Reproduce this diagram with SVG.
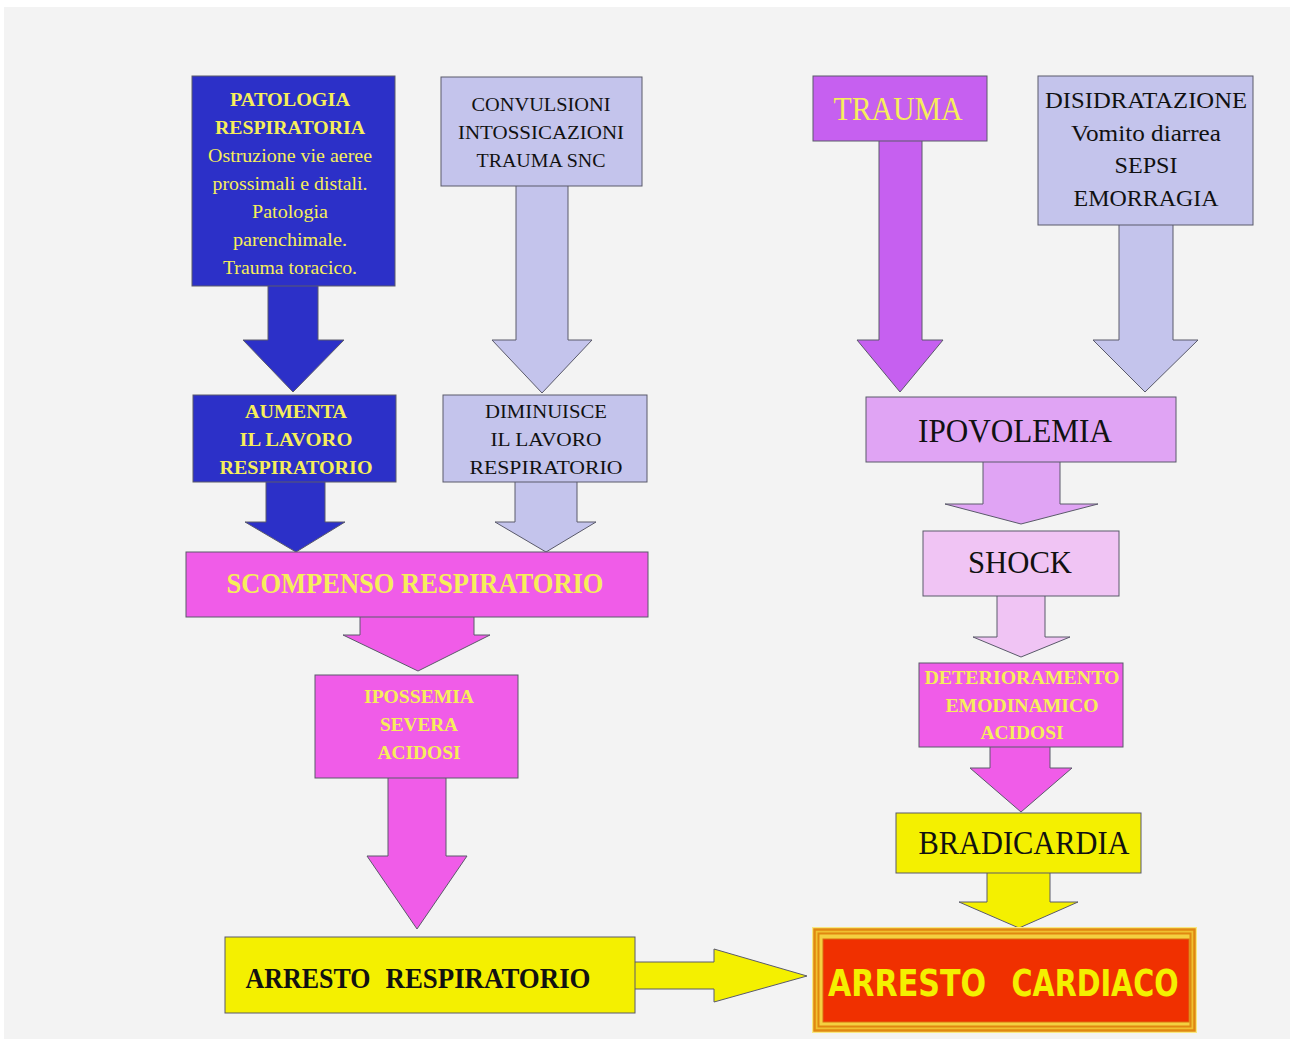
<svg xmlns="http://www.w3.org/2000/svg" width="1290" height="1039" viewBox="0 0 1290 1039">
<style>
.box{stroke:#5a5a6a;stroke-width:1}
.arr{stroke:#5a5a6a;stroke-width:1;stroke-linejoin:miter}
.blue{fill:#2c30c8}
.lav{fill:#c4c4ec}
.pur{fill:#c660f0}
.ipo{fill:#e0a4f4}
.sho{fill:#f0c4f4}
.mag{fill:#f05ce8}
.yel{fill:#f4f000}
text{font-family:"Liberation Serif","Times New Roman",serif;text-anchor:middle}
.ty{fill:#f6ee5a;font-weight:bold}
.tyr{fill:#f6ee5a}
.tk{fill:#111}
</style>
<rect x="0" y="0" width="1290" height="1039" fill="#ffffff"/>
<rect x="4" y="7" width="1286" height="1032" fill="#f3f3f3"/>

<g id="connectors">
<path class="arr blue" d="M268,285 V340 H243 L293,392 L344,340 H318 V285"/>
<path class="arr blue" d="M266,481 V522 H245 L296,552 L345,522 H325 V481"/>
<path class="arr lav" d="M516,185 V340 H492 L542,393 L592,340 H568 V185"/>
<path class="arr lav" d="M515,481 V522 H495 L546,552 L596,522 H577 V481"/>
<path class="arr mag" d="M360,616 V635 H343 L418,671 L490,635 H474 V616"/>
<path class="arr mag" d="M388,777 V856 H367 L417,929 L467,856 H446 V777"/>
<path class="arr yel" d="M634,962 H714 V949 L807,976 L714,1002 V989 H634"/>
<path class="arr pur" d="M879,140 V340 H857 L900,392 L943,340 H922 V140"/>
<path class="arr lav" d="M1119,224 V340 H1093 L1145,392 L1198,340 H1173 V224"/>
<path class="arr ipo" d="M983,461 V504 H945 L1021,524 L1098,504 H1060 V461"/>
<path class="arr sho" d="M997,595 V637 H973 L1021,657 L1070,637 H1045 V595"/>
<path class="arr mag" d="M990,746 V768 H970 L1021,812 L1072,768 H1050 V746"/>
<path class="arr yel" d="M987,872 V902 H959 L1019,928 L1078,902 H1050 V872"/>
</g>

<g id="patologia">
<rect class="box blue" x="192" y="76" width="203" height="210"/>
<text class="ty" x="290" y="106" font-size="19" textLength="120" lengthAdjust="spacingAndGlyphs">PATOLOGIA</text>
<text class="ty" x="290" y="134" font-size="19" textLength="150" lengthAdjust="spacingAndGlyphs">RESPIRATORIA</text>
<text class="tyr" x="290" y="162" font-size="19" textLength="164" lengthAdjust="spacingAndGlyphs">Ostruzione vie aeree</text>
<text class="tyr" x="290" y="190" font-size="19" textLength="155" lengthAdjust="spacingAndGlyphs">prossimali e distali.</text>
<text class="tyr" x="290" y="218" font-size="19" textLength="76" lengthAdjust="spacingAndGlyphs">Patologia</text>
<text class="tyr" x="290" y="246" font-size="19" textLength="114" lengthAdjust="spacingAndGlyphs">parenchimale.</text>
<text class="tyr" x="290" y="274" font-size="19" textLength="134" lengthAdjust="spacingAndGlyphs">Trauma toracico.</text>
</g>

<g id="convulsioni">
<rect class="box lav" x="441" y="77" width="201" height="109"/>
<text class="tk" x="541" y="111" font-size="19" textLength="139" lengthAdjust="spacingAndGlyphs">CONVULSIONI</text>
<text class="tk" x="541" y="139" font-size="19" textLength="166" lengthAdjust="spacingAndGlyphs">INTOSSICAZIONI</text>
<text class="tk" x="541" y="167" font-size="19" textLength="129" lengthAdjust="spacingAndGlyphs">TRAUMA SNC</text>
</g>

<g id="aumenta">
<rect class="box blue" x="193" y="395" width="203" height="87"/>
<text class="ty" x="296" y="418" font-size="19" textLength="102" lengthAdjust="spacingAndGlyphs">AUMENTA</text>
<text class="ty" x="296" y="446" font-size="19" textLength="113" lengthAdjust="spacingAndGlyphs">IL LAVORO</text>
<text class="ty" x="296" y="474" font-size="19" textLength="153" lengthAdjust="spacingAndGlyphs">RESPIRATORIO</text>
</g>

<g id="diminuisce">
<rect class="box lav" x="443" y="395" width="204" height="87"/>
<text class="tk" x="546" y="418" font-size="19" textLength="122" lengthAdjust="spacingAndGlyphs">DIMINUISCE</text>
<text class="tk" x="546" y="446" font-size="19" textLength="111" lengthAdjust="spacingAndGlyphs">IL LAVORO</text>
<text class="tk" x="546" y="474" font-size="19" textLength="153" lengthAdjust="spacingAndGlyphs">RESPIRATORIO</text>
</g>

<g id="scompenso">
<rect class="box mag" x="186" y="552" width="462" height="65"/>
<text class="ty" x="415" y="593" font-size="29" textLength="377" lengthAdjust="spacingAndGlyphs">SCOMPENSO RESPIRATORIO</text>
</g>

<g id="ipossemia">
<rect class="box mag" x="315" y="675" width="203" height="103"/>
<text class="ty" x="419" y="703" font-size="18" textLength="110" lengthAdjust="spacingAndGlyphs">IPOSSEMIA</text>
<text class="ty" x="419" y="731" font-size="18" textLength="78" lengthAdjust="spacingAndGlyphs">SEVERA</text>
<text class="ty" x="419" y="759" font-size="18" textLength="83" lengthAdjust="spacingAndGlyphs">ACIDOSI</text>
</g>

<g id="arresto-respiratorio">
<rect class="box yel" x="225" y="937" width="410" height="76"/>
<text class="tk" x="308" y="988" font-size="30" font-weight="bold" textLength="125" lengthAdjust="spacingAndGlyphs">ARRESTO</text>
<text class="tk" x="488" y="988" font-size="30" font-weight="bold" textLength="205" lengthAdjust="spacingAndGlyphs">RESPIRATORIO</text>
</g>

<g id="trauma">
<rect class="box pur" x="813" y="76" width="174" height="65"/>
<text class="tyr" x="898" y="120" font-size="34" textLength="129" lengthAdjust="spacingAndGlyphs">TRAUMA</text>
</g>

<g id="disidratazione">
<rect class="box lav" x="1038" y="76" width="215" height="149"/>
<text class="tk" x="1146" y="108" font-size="23" textLength="202" lengthAdjust="spacingAndGlyphs">DISIDRATAZIONE</text>
<text class="tk" x="1146" y="141" font-size="23" textLength="150" lengthAdjust="spacingAndGlyphs">Vomito diarrea</text>
<text class="tk" x="1146" y="173" font-size="23" textLength="63" lengthAdjust="spacingAndGlyphs">SEPSI</text>
<text class="tk" x="1146" y="206" font-size="23" textLength="145" lengthAdjust="spacingAndGlyphs">EMORRAGIA</text>
</g>

<g id="ipovolemia">
<rect class="box ipo" x="866" y="397" width="310" height="65"/>
<text class="tk" x="1015" y="442" font-size="34" textLength="194" lengthAdjust="spacingAndGlyphs">IPOVOLEMIA</text>
</g>

<g id="shock">
<rect class="box sho" x="923" y="531" width="196" height="65"/>
<text class="tk" x="1020" y="573" font-size="32" textLength="104" lengthAdjust="spacingAndGlyphs">SHOCK</text>
</g>

<g id="deterioramento">
<rect class="box mag" x="919" y="663" width="204" height="84"/>
<text class="ty" x="1022" y="684" font-size="19" textLength="195" lengthAdjust="spacingAndGlyphs">DETERIORAMENTO</text>
<text class="ty" x="1022" y="712" font-size="19" textLength="153" lengthAdjust="spacingAndGlyphs">EMODINAMICO</text>
<text class="ty" x="1022" y="739" font-size="19" textLength="83" lengthAdjust="spacingAndGlyphs">ACIDOSI</text>
</g>

<g id="bradicardia">
<rect class="box yel" x="896" y="813" width="245" height="60"/>
<text class="tk" x="1024" y="854" font-size="33" textLength="211" lengthAdjust="spacingAndGlyphs">BRADICARDIA</text>
</g>

<g id="arresto-cardiaco">
<rect x="812" y="927" width="385" height="106" fill="#f8e880"/>
<rect x="814.5" y="929.5" width="380" height="101" fill="#f0c030" stroke="#e08810" stroke-width="2.5"/>
<rect x="818.5" y="933.5" width="372" height="93" fill="#f4d040" stroke="#e08810" stroke-width="2"/>
<rect x="823" y="939" width="366" height="83" fill="#f03000" stroke="#d87010" stroke-width="1"/>
<text x="907" y="996" font-size="38" font-weight="bold" fill="#f4f000" style="font-family:'DejaVu Sans Condensed','DejaVu Sans',sans-serif" textLength="158" lengthAdjust="spacingAndGlyphs">ARRESTO</text>
<text x="1095" y="996" font-size="38" font-weight="bold" fill="#f4f000" style="font-family:'DejaVu Sans Condensed','DejaVu Sans',sans-serif" textLength="167" lengthAdjust="spacingAndGlyphs">CARDIACO</text>
</g>
</svg>
